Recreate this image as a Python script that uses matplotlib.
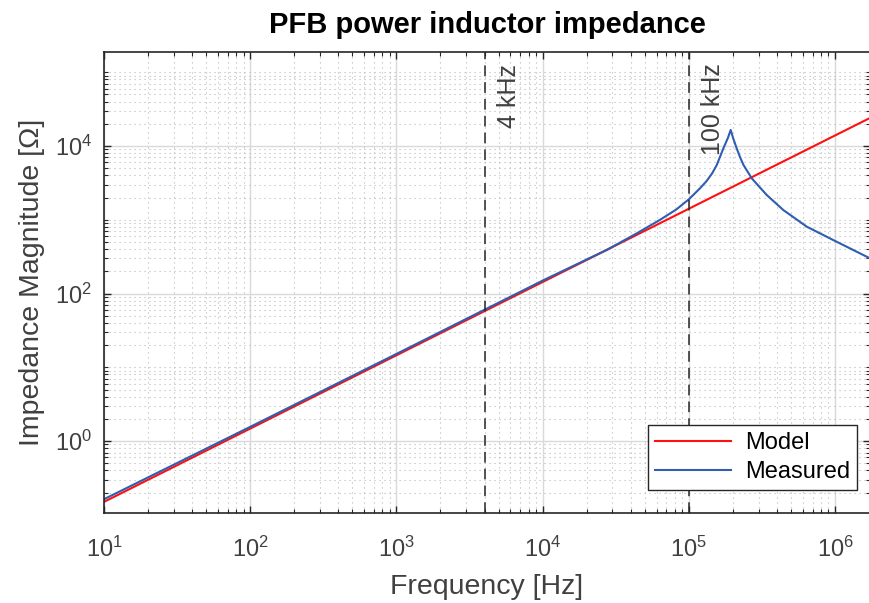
import numpy as np
import matplotlib
matplotlib.use("Agg")
import matplotlib.pyplot as plt
from matplotlib.ticker import LogLocator, FixedLocator, NullFormatter

plt.rcParams['font.family'] = ['Liberation Sans', 'DejaVu Sans']
plt.rcParams['mathtext.fontset'] = 'custom'
plt.rcParams['mathtext.rm'] = 'Liberation Sans'

# model: straight line (ideal inductor), end points
model_freq = [10, 1.73e6]
model_z = [0.15, 2.4e4]

# measured impedance
meas_freq = [10, 100, 1e3, 1e4, 2.74e4, 4.4e4, 6.35e4, 8.2e4, 1.0e5, 1.19e5, 1.32e5,
             1.44e5, 1.55e5, 1.72e5, 1.85e5, 1.93e5, 2.0e5, 2.12e5, 2.24e5, 2.36e5,
             2.69e5, 3.4e5, 4.43e5, 6.4e5, 9.7e5, 1.33e6, 1.73e6]
meas_z = [0.163, 1.56, 15.2, 150, 390, 655, 1000, 1380, 1900, 2670, 3350,
          4250, 5530, 9300, 13000, 16500, 13000, 9300, 7000, 5530,
          3640, 2170, 1350, 805, 531, 389, 300]

markers = [4e3, 1e5]
marker_labels = ['4 kHz', '100 kHz']

y_ticks = [1, 1e2, 1e4]
x_lim = (10, 1.73e6)
y_lim = (0.106, 1.88e5)

axcol = (0.15, 0.15, 0.15)
txtcol = (0.25, 0.25, 0.25)

fig = plt.figure(figsize=(8.7, 6.03), dpi=100)
ax = fig.add_axes([104 / 870, 90 / 603, 766 / 870, 461 / 603])

ax.loglog(model_freq, model_z, color='#ff1010', lw=1.5, label='Model')
ax.loglog(meas_freq, meas_z, color='#2f5db0', lw=1.5, label='Measured')

for f, lab in zip(markers, marker_labels):
    ax.axvline(f, color=axcol, lw=1.1, ls=(0, (7, 4)))
    ax.annotate(lab, xy=(f, 0.975), xycoords=('data', 'axes fraction'),
                xytext=(9, 0), textcoords='offset points',
                rotation=90, ha='left', va='top', fontsize=18, color=txtcol)

ax.set_xlim(*x_lim)
ax.set_ylim(*y_lim)

ax.xaxis.set_major_locator(LogLocator(base=10, numticks=20))
ax.xaxis.set_minor_locator(LogLocator(base=10, subs=np.arange(2, 10), numticks=20))
ax.xaxis.set_minor_formatter(NullFormatter())
ax.yaxis.set_major_locator(FixedLocator(y_ticks))
ax.yaxis.set_minor_locator(LogLocator(base=10, subs=np.arange(1, 10), numticks=20))
ax.yaxis.set_minor_formatter(NullFormatter())

ax.grid(True, which='major', color=(0.85, 0.85, 0.85), lw=1.0, ls='-')
ax.grid(True, which='minor', color=(0.72, 0.72, 0.72), lw=0.8, ls=(0, (1, 3.5)))
ax.set_axisbelow(True)

ax.tick_params(which='both', direction='in', top=True, right=True, colors=axcol,
               labelsize=17, labelcolor=txtcol)
ax.tick_params(which='major', length=5, width=1)
ax.tick_params(which='minor', length=3, width=0.8)
ax.tick_params(axis='x', pad=17)
ax.tick_params(axis='y', pad=8.5)
for s in ax.spines.values():
    s.set_color(axcol)
    s.set_linewidth(1.2)

ax.set_xlabel('Frequency [Hz]', fontsize=20.5, color=txtcol, labelpad=9)
ax.set_ylabel('Impedance Magnitude [Ω]', fontsize=20.5, color=txtcol, labelpad=7)
ax.set_title('PFB power inductor impedance', fontsize=21, fontweight='bold', pad=14)

leg = ax.legend(loc='lower right', bbox_to_anchor=(0.983, 0.05), borderaxespad=0,
                fontsize=17, fancybox=False, edgecolor=axcol, framealpha=1,
                handlelength=3.2, handletextpad=0.6, borderpad=0.3, labelspacing=0.3)
leg.get_frame().set_linewidth(1.0)

fig.savefig('out.png', dpi=100)
